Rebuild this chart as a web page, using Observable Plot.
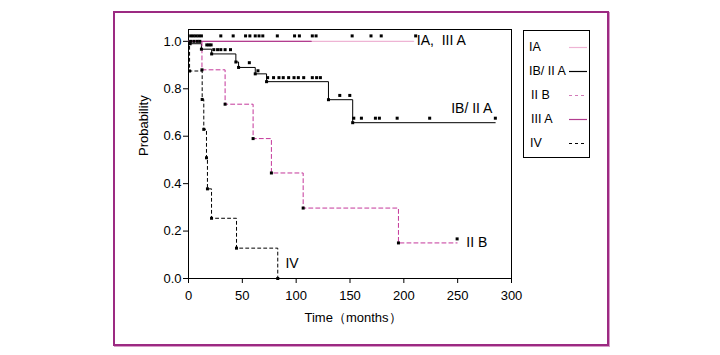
<!DOCTYPE html>
<html>
<head>
<meta charset="utf-8">
<script src="https://cdn.jsdelivr.net/npm/d3@7"></script>
<script src="https://cdn.jsdelivr.net/npm/@observablehq/plot@0.6"></script>
<style>
  html, body { margin: 0; padding: 0; background: #fff; }
  #wrap { position: relative; width: 720px; height: 355px; font-family: "Liberation Sans", Arial, sans-serif; }
  #outer { position: absolute; left: 113px; top: 11px; width: 492px; height: 331px; border: 2px solid #9c2a82; box-shadow: 1px 1px 0 #d79ac8; }
  #legend { position: absolute; left: 523px; top: 30px; width: 65px; height: 126px; border: 1px solid #000; background: #fff; font-size: 12.5px; }
  .item { position: absolute; left: 0; width: 65px; height: 16px; }
  .item span { position: absolute; top: 0; line-height: 16px; white-space: nowrap; }
  .item svg { position: absolute; left: 45px; top: 0; }
  #chart { position: absolute; left: 0; top: 0; }
</style>
</head>
<body>
<div id="wrap">
  <div id="outer"></div>
  <div id="chart"></div>
  <div id="legend"></div>
</div>
<script>
// ---- data ----
const xTicks = [0, 50, 100, 150, 200, 250, 300];
const yTicks = [0, 0.2, 0.4, 0.6, 0.8, 1.0];

const iaTimes = [0, 209];
const iaSurv = [1, 1];

const iiiaTimes = [0, 114];
const iiiaSurv = [1, 1];

const ib2aTimes = [0, 1.5, 12, 21.5, 44, 46.5, 62, 72.5, 130, 152.5, 285];
const ib2aSurv  = [1, 0.99, 0.967, 0.947, 0.913, 0.89, 0.863, 0.83, 0.754, 0.657, 0.657];

const iibTimes = [0, 12.5, 34, 60, 77, 106.5, 195, 249.5];
const iibSurv  = [1, 0.88, 0.735, 0.59, 0.445, 0.297, 0.15, 0.15];

const ivTimes = [0, 1, 12.7, 14.2, 16.7, 17.6, 21.4, 44.6, 82.9];
const ivSurv  = [1, 0.875, 0.755, 0.629, 0.509, 0.378, 0.254, 0.128, 0];

// censored marks
const topCensorTimes = [2, 4.5, 7, 9.5, 12, 30, 41.5, 53, 57, 62, 65.5, 69, 82.5, 98.5, 103, 115, 118.5, 152, 169.5, 179, 211];
const topCensorY = 1.023;

const ib2aCensorTimes = [2, 5, 8, 10.5, 17, 19, 21, 23.5, 27, 30, 34, 39, 56.5, 64.5,
  73.5, 79, 84, 88, 93, 98, 102, 107, 115, 119, 122.5, 140.5, 149.8,
  153.5, 160.6, 173.6, 177.3, 193.8, 224, 285];
const ib2aCensorY = [1.0, 1.0, 1.0, 1.0, 0.985, 0.985, 0.985, 0.965, 0.965, 0.965, 0.965, 0.965, 0.91, 0.876,
  0.847, 0.847, 0.847, 0.847, 0.847, 0.847, 0.847, 0.847, 0.847, 0.847, 0.847, 0.772, 0.772,
  0.676, 0.676, 0.676, 0.676, 0.676, 0.676, 0.676];

const iibCensorTimes = [249.5];
const iibCensorY = [0.167];

const labelTexts = ["IA,  III A", "IB/ II A", "II B", "IV"];
const labelTimes = [212, 244, 258, 90];
const labelY = [1.004, 0.717, 0.152, 0.063];

const legendNames = ["IA", "IB/ II A", "II B", "III A", "IV"];

// ---- styles ----
const colIA = "#eeb4d4";
const colIIIA = "#b23d8f";
const colIIB = "#c4379a";
const colLegIIB = "#d27ab8";

const toRows = (ts, ss) => ts.map((t, i) => ({t, s: ss[i]}));
const ia = toRows(iaTimes, iaSurv);
const iiia = toRows(iiiaTimes, iiiaSurv);
const ib2a = toRows(ib2aTimes, ib2aSurv);
const iib = toRows(iibTimes, iibSurv);
const iv = toRows(ivTimes, ivSurv);
const corners = rows => rows.slice(1, -1);
const topCens = topCensorTimes.map(t => ({t, s: topCensorY}));
const ibCens = toRows(ib2aCensorTimes, ib2aCensorY);
const iibCens = toRows(iibCensorTimes, iibCensorY);
const labels = labelTexts.map((text, i) => ({text, t: labelTimes[i], s: labelY[i]}));

const sq = {x: "t", y: "s", symbol: "square", r: 1.7, fill: "#000", stroke: "none"};

const chart = Plot.plot({
  width: 720,
  height: 355,
  marginLeft: 188,
  marginRight: 209,
  marginTop: 29,
  marginBottom: 77,
  style: {fontSize: "13px", fontFamily: "'Liberation Sans', Arial, sans-serif", color: "#000", background: "transparent"},
  x: {domain: [0, 300]},
  y: {domain: [0, 1.05]},
  marks: [
    Plot.frame({stroke: "#000"}),
    Plot.axisX({ticks: xTicks, tickSize: 5, tickPadding: 7, label: null, fontSize: 13}),
    Plot.axisY({ticks: yTicks, tickFormat: d3.format(".1f"), tickSize: 5, tickPadding: 2, label: null, fontSize: 13}),
    Plot.line(ia, {x: "t", y: "s", curve: "step-after", stroke: colIA, strokeWidth: 1.4}),
    Plot.line(iiia, {x: "t", y: "s", curve: "step-after", stroke: colIIIA, strokeWidth: 1.2}),
    Plot.line(ib2a, {x: "t", y: "s", curve: "step-after", stroke: "#000", strokeWidth: 1}),
    Plot.line(iib, {x: "t", y: "s", curve: "step-after", stroke: colIIB, strokeWidth: 1, strokeDasharray: "4,3"}),
    Plot.line(iv, {x: "t", y: "s", curve: "step-after", stroke: "#000", strokeWidth: 1, strokeDasharray: "3,3"}),
    Plot.dot(corners(ib2a), sq),
    Plot.dot(corners(iib), sq),
    Plot.dot(corners(iv), sq),
    Plot.dot(iv.slice(-1), sq),
    Plot.dot(topCens, sq),
    Plot.dot(ibCens, sq),
    Plot.dot(iibCens, sq),
    Plot.text(labels, {x: "t", y: "s", text: "text", textAnchor: "start", fontSize: 14, fill: "#000"}),
    Plot.text(["Time（months）"], {frameAnchor: "bottom", dy: 43, dx: 3, fontSize: 13, fill: "#000"}),
    Plot.text(["Probability"], {frameAnchor: "left", dx: -45, dy: 2, rotate: -90, fontSize: 13, fill: "#000"})
  ]
});
document.getElementById("chart").appendChild(chart);

// ---- legend ----
const legStyles = [
  {stroke: colIA, dash: null, left: 5},
  {stroke: "#000", dash: null, left: 5},
  {stroke: colLegIIB, dash: "3,3", left: 7},
  {stroke: colIIIA, dash: null, left: 7},
  {stroke: "#000", dash: "3,3", left: 6}
];
const legTops = [8, 32, 56, 80, 104];
const legend = document.getElementById("legend");
legendNames.forEach((name, i) => {
  const st = legStyles[i];
  const item = document.createElement("div");
  item.className = "item";
  item.style.top = legTops[i] + "px";
  const sp = document.createElement("span");
  sp.style.left = st.left + "px";
  sp.textContent = name;
  item.appendChild(sp);
  const ns = "http://www.w3.org/2000/svg";
  const svg = document.createElementNS(ns, "svg");
  svg.setAttribute("width", "18");
  svg.setAttribute("height", "16");
  const ln = document.createElementNS(ns, "line");
  ln.setAttribute("x1", "0"); ln.setAttribute("x2", "18");
  ln.setAttribute("y1", "8.5"); ln.setAttribute("y2", "8.5");
  ln.setAttribute("stroke", st.stroke);
  ln.setAttribute("stroke-width", "1.2");
  if (st.dash) ln.setAttribute("stroke-dasharray", st.dash);
  svg.appendChild(ln);
  item.appendChild(svg);
  legend.appendChild(item);
});
</script>
</body>
</html>
